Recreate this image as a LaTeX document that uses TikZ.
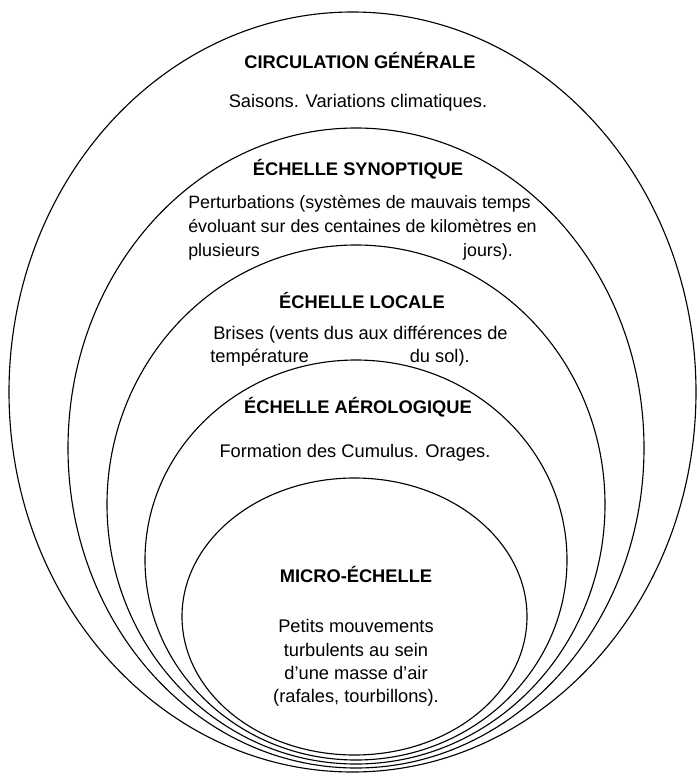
\documentclass[tikz,border=0pt]{standalone}
\usepackage{fontspec}
\setmainfont{Liberation Sans}
\begin{document}
\begin{tikzpicture}[x=0.025cm,y=-0.025cm,
  echelle/.style={line width=0.8pt},
  titre/.style={font=\fontsize{13}{16.7}\selectfont\bfseries,anchor=base,inner sep=0pt},
  texte/.style={font=\fontsize{13}{16.7}\selectfont,anchor=base west,inner sep=0pt}]
\useasboundingbox (0,0) rectangle (697,776);

% Draw the nested ellipses, from the outside in
\draw[echelle] (352.5,392) ellipse [x radius=343.5, y radius=380];
\draw[echelle] (356,448) ellipse [x radius=288, y radius=320];
\draw[echelle] (356,504.5) ellipse [x radius=249, y radius=259.5];
\draw[echelle] (356,560) ellipse [x radius=211, y radius=200];
\draw[echelle] (354.5,616.5) ellipse [x radius=172.5, y radius=138.5];

% Circulation generale
\node[titre] (circ) at (360,68) {CIRCULATION GÉNÉRALE};
\node[titre,font=\fontsize{13}{16.7}\selectfont] (circtxt) at (358,107) {Saisons. Variations climatiques.};

% Echelle synoptique
\node[titre] (syn) at (358,175) {ÉCHELLE SYNOPTIQUE};
\node[texte,font=\fontsize{12.7}{16.7}\selectfont] (syn1) at (188,208) {Perturbations (systèmes de mauvais temps};
\node[texte,font=\fontsize{12.7}{16.7}\selectfont] (syn2) at (188,232) {évoluant sur des centaines de kilomètres en};
\node[texte,font=\fontsize{12.7}{16.7}\selectfont] (syn3a) at (188,256) {plusieurs};
\node[texte,font=\fontsize{12.7}{16.7}\selectfont,anchor=base east] (syn3b) at (513,256) {jours).};

% Echelle locale
\node[titre] (loc) at (362,308) {ÉCHELLE LOCALE};
\node[texte] (loc1) at (213,339) {Brises (vents dus aux différences de};
\node[texte] (loc2a) at (210,362) {température};
\node[texte,anchor=base east] (loc2b) at (470,362) {du sol).};

% Echelle aerologique
\node[titre] (aero) at (358,413) {ÉCHELLE AÉROLOGIQUE};
\node[titre,font=\fontsize{13}{16.7}\selectfont] (aerotxt) at (355,457) {Formation des Cumulus. Orages.};

% Micro-echelle
\node[titre] (micro) at (356,582) {MICRO-ÉCHELLE};
\node[font=\fontsize{13}{16.7}\selectfont,align=center,anchor=north,inner sep=0pt] (microtxt) at (356,619)
  {Petits mouvements\\turbulents au sein\\d'une masse d'air\\(rafales, tourbillons).};
\end{tikzpicture}
\end{document}
